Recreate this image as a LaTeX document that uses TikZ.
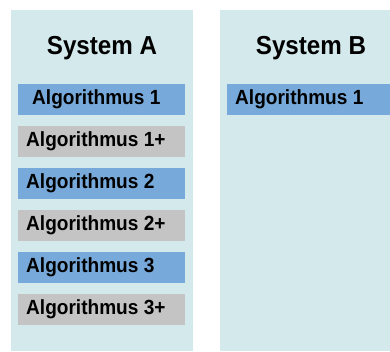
\documentclass[tikz,border=0pt]{standalone}
\usepackage{fontspec}
\setmainfont[FakeStretch=0.93]{Liberation Sans}
\definecolor{panel}{HTML}{D4E9EC}
\definecolor{algblue}{HTML}{77AADB}
\definecolor{alggray}{HTML}{C4C4C4}
\begin{document}
\begin{tikzpicture}[x=1pt,y=-1pt,
  panelbox/.style={fill=panel,draw=none},
  title/.style={font=\fontsize{26}{30}\selectfont\bfseries,text=black},
  algbox/.style={draw=none,minimum height=31pt,inner sep=0pt,anchor=north west},
  blue/.style={algbox,fill=algblue},
  gray/.style={algbox,fill=alggray},
  algtext/.style={anchor=west,inner sep=0pt,text=black,
     font=\fontsize{20.5}{24}\selectfont\bfseries}]
\useasboundingbox (0,0) rectangle (390,351);
\fill[panelbox] (11,10) rectangle (193,351);
\fill[panelbox] (220,10) rectangle (390,351);
\node[title] (ta) at (102,48) {System A};
\node[title] (tb) at (311,48) {System B};
\node[blue,minimum width=167pt] (a1) at (18,84) {};
\node[algtext] (a1t) at ([xshift=14pt]a1.west) {Algorithmus 1};
\node[gray,minimum width=167pt] (a1p) at (18,126) {};
\node[algtext] (a1pt) at ([xshift=8pt]a1p.west) {Algorithmus 1+};
\node[blue,minimum width=167pt] (a2) at (18,168) {};
\node[algtext] (a2t) at ([xshift=8pt]a2.west) {Algorithmus 2};
\node[gray,minimum width=167pt] (a2p) at (18,210) {};
\node[algtext] (a2pt) at ([xshift=8pt]a2p.west) {Algorithmus 2+};
\node[blue,minimum width=167pt] (a3) at (18,252) {};
\node[algtext] (a3t) at ([xshift=8pt]a3.west) {Algorithmus 3};
\node[gray,minimum width=167pt] (a3p) at (18,294) {};
\node[algtext] (a3pt) at ([xshift=8pt]a3p.west) {Algorithmus 3+};
\node[blue,minimum width=163pt] (b1) at (227,84) {};
\node[algtext] (b1t) at ([xshift=8pt]b1.west) {Algorithmus 1};
\end{tikzpicture}
\end{document}
